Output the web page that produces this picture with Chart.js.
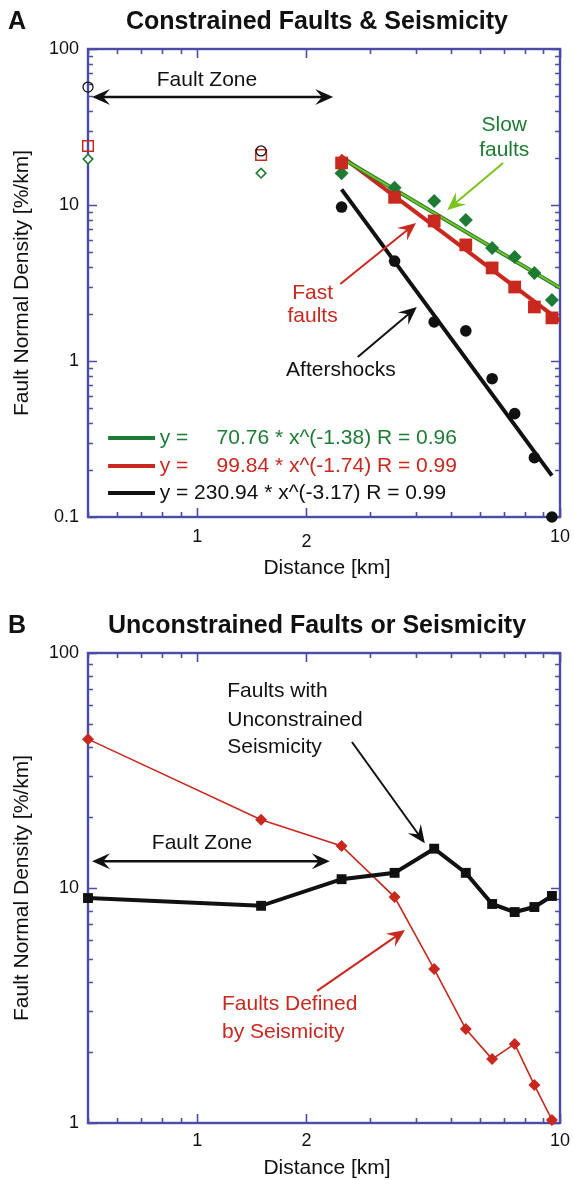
<!DOCTYPE html>
<html><head><meta charset="utf-8">
<script src="https://cdn.jsdelivr.net/npm/chart.js@4.4.1/dist/chart.umd.min.js"></script>
<style>html,body{margin:0;padding:0;background:#fff}canvas{display:block}</style>
</head><body>
<canvas id="chartA" width="574" height="590"></canvas>
<canvas id="chartB" width="574" height="590"></canvas>
<script>
// ---------- DATA ----------
const openDistance = [0.5, 1.5];
const fitDistance = [2.5, 3.5, 4.5, 5.5, 6.5, 7.5, 8.5, 9.5];
const binDistance = [0.5, 1.5, 2.5, 3.5, 4.5, 5.5, 6.5, 7.5, 8.5, 9.5];

// Panel A
const aftershocksOpen = [57, 22.2];
const aftershocks = [9.7, 4.37, 1.78, 1.56, 0.77, 0.46, 0.24, 0.10];
const fastOpen = [23.9, 20.9];
const fastFaults = [18.6, 11.2, 7.9, 5.55, 3.95, 2.98, 2.22, 1.89];
const slowOpen = [19.7, 16.0];
const slowFaults = [16.0, 12.9, 10.6, 8.0, 5.3, 4.64, 3.67, 2.46];

const slowFitX = [2.5, 10];
const slowFitY = [20.0, 2.95];
const fastFitX = [2.48, 10];
const fastFitY = [20.8, 1.81];
const aftershockFitX = [2.5, 9.5];
const aftershockFitY = [12.6, 0.184];

// Panel B
const unconstrainedSeismicity = [9.06, 8.4, 10.9, 11.6, 14.7, 11.6, 8.55, 7.9, 8.3, 9.25];
const definedBySeismicity = [43, 19.5, 15.1, 9.15, 4.52, 2.51, 1.87, 2.17, 1.45, 1.03];

// Ticks
const xTickValues = [0.5, 0.6, 0.7, 0.8, 0.9, 1, 2, 3, 4, 5, 6, 7, 8, 9, 10];
const xTickLabels = [1, 2, 10];
const yTickLabelsA = [0.1, 1, 10, 100];
const yTickLabelsB = [1, 10, 100];
const legendLines = [
  'y =', '70.76 * x^(-1.38) R = 0.96',
  'y =', '99.84 * x^(-1.74) R = 0.99',
  'y = 230.94 * x^(-3.17) R = 0.99'
];

// ---------- STYLE ----------
const AXIS = '#4b4ba8', RED = '#c9281f', GREEN = '#1e7b34', LGREEN = '#7ac21f', BLACK = '#111111';
const FONT = '"Liberation Sans", Arial, Helvetica, sans-serif';

const pts = (xs, ys) => xs.map((x, i) => ({x: x, y: ys[i]}));

function yTickValues(lo, hi) {
  const out = [];
  for (let d = lo; d < hi; d *= 10) for (let k = 1; k < 10; k++) out.push({v: d * k, major: k === 1});
  out.push({v: hi, major: true});
  return out;
}

function drawFrame(chart, yLo, yHi) {
  const {ctx, chartArea: ca, scales: {x, y}} = chart;
  ctx.save();
  ctx.strokeStyle = AXIS;
  ctx.lineWidth = 1.6;
  ctx.beginPath();
  xTickValues.forEach(v => {
    const px = Math.round(x.getPixelForValue(v)) + 0.5;
    const L = xTickLabels.includes(v) ? 9 : 5;
    ctx.moveTo(px, ca.bottom); ctx.lineTo(px, ca.bottom - L);
    ctx.moveTo(px, ca.top); ctx.lineTo(px, ca.top + L);
  });
  yTickValues(yLo, yHi).forEach(t => {
    const py = Math.round(y.getPixelForValue(t.v)) + 0.5;
    const L = t.major ? 9 : 5;
    ctx.moveTo(ca.left, py); ctx.lineTo(ca.left + L, py);
    ctx.moveTo(ca.right, py); ctx.lineTo(ca.right - L, py);
  });
  ctx.stroke();
  ctx.lineWidth = 2.4;
  ctx.strokeRect(ca.left, ca.top, ca.right - ca.left, ca.bottom - ca.top);
  ctx.restore();
}

function drawAxisText(chart, yLabels, xLabelDy, twoDy, letter, title, yTitleCy, xTitleY) {
  const {ctx, chartArea: ca, scales: {x, y}} = chart;
  ctx.save();
  ctx.fillStyle = BLACK;
  ctx.font = '18px ' + FONT;
  ctx.textAlign = 'right'; ctx.textBaseline = 'middle';
  yLabels.forEach(v => ctx.fillText(String(v), ca.left - 9, y.getPixelForValue(v)));
  ctx.textAlign = 'center';
  xTickLabels.forEach(v => ctx.fillText(String(v), x.getPixelForValue(v), ca.bottom + xLabelDy + (v === 2 ? twoDy : 0)));
  ctx.font = '21px ' + FONT;
  ctx.fillText('Distance [km]', 327, xTitleY);
  ctx.save();
  ctx.translate(22, yTitleCy); ctx.rotate(-Math.PI / 2);
  ctx.fillText('Fault Normal Density [%/km]', 0, 0);
  ctx.restore();
  ctx.font = 'bold 25px ' + FONT;
  ctx.textAlign = 'left';
  ctx.fillText(letter, 8, ca.top - 27);
  ctx.textAlign = 'center';
  ctx.fillText(title, 317, ca.top - 27);
  ctx.restore();
}

function P(chart, xv, yv) {
  return [chart.scales.x.getPixelForValue(xv), chart.scales.y.getPixelForValue(yv)];
}

function arrowHead(ctx, x1, y1, x2, y2, len, half, color) {
  const a = Math.atan2(y2 - y1, x2 - x1);
  ctx.save();
  ctx.translate(x2, y2); ctx.rotate(a);
  ctx.fillStyle = color;
  ctx.beginPath();
  ctx.moveTo(0, 0); ctx.lineTo(-len, -half); ctx.lineTo(-len * 0.62, 0); ctx.lineTo(-len, half);
  ctx.closePath(); ctx.fill();
  ctx.restore();
}

function arrow(chart, from, to, color, width, both) {
  const {ctx} = chart;
  const [x1, y1] = P(chart, from[0], from[1]);
  const [x2, y2] = P(chart, to[0], to[1]);
  ctx.save();
  ctx.strokeStyle = color; ctx.lineWidth = width; ctx.lineCap = 'butt';
  const a = Math.atan2(y2 - y1, x2 - x1);
  const back = 8;
  ctx.beginPath();
  ctx.moveTo(both ? x1 + Math.cos(a) * back : x1, both ? y1 + Math.sin(a) * back : y1);
  ctx.lineTo(x2 - Math.cos(a) * back, y2 - Math.sin(a) * back);
  ctx.stroke();
  ctx.restore();
  arrowHead(ctx, x1, y1, x2, y2, 18, 8, color);
  if (both) arrowHead(ctx, x2, y2, x1, y1, 18, 8, color);
}

function label(chart, text, xv, yv, color, align) {
  const {ctx} = chart;
  const [px, py] = P(chart, xv, yv);
  ctx.save();
  ctx.fillStyle = color; ctx.font = '21px ' + FONT;
  ctx.textAlign = align || 'center'; ctx.textBaseline = 'middle';
  ctx.fillText(text, px, py);
  ctx.restore();
}

function legendLine(chart, yv, color) {
  const {ctx} = chart;
  const [x1, py] = P(chart, 0.568, yv);
  const [x2] = P(chart, 0.765, yv);
  ctx.save();
  ctx.strokeStyle = color; ctx.lineWidth = 4;
  ctx.beginPath(); ctx.moveTo(x1, py); ctx.lineTo(x2, py); ctx.stroke();
  ctx.restore();
}

const noInteract = {
  responsive: false, animation: false, events: [],
  plugins: {legend: {display: false}, tooltip: {enabled: false}, title: {display: false}}
};

// ---------- CHART A ----------
new Chart(document.getElementById('chartA'), {
  type: 'scatter',
  data: {
    datasets: [
      {data: pts(fitDistance, aftershocks), pointStyle: 'circle', pointRadius: 5.8, backgroundColor: BLACK, borderColor: BLACK, borderWidth: 0, order: 1, clip: false},
      {data: pts(fitDistance, fastFaults), pointStyle: 'rect', pointRadius: 9, backgroundColor: RED, borderColor: RED, borderWidth: 0, order: 2, clip: false},
      {data: pts(fitDistance, slowFaults), pointStyle: 'rectRot', pointRadius: 7, backgroundColor: GREEN, borderColor: GREEN, borderWidth: 0, order: 3, clip: false},
      {data: pts(openDistance, aftershocksOpen), pointStyle: 'circle', pointRadius: 5, backgroundColor: 'rgba(255,255,255,0)', borderColor: BLACK, borderWidth: 1.3, order: 4, clip: false},
      {data: pts(openDistance, fastOpen), pointStyle: 'rect', pointRadius: 7.5, backgroundColor: 'rgba(255,255,255,0)', borderColor: RED, borderWidth: 1.5, order: 5, clip: false},
      {data: pts(openDistance, slowOpen), pointStyle: 'rectRot', pointRadius: 4.8, backgroundColor: '#ffffff', borderColor: GREEN, borderWidth: 1.6, order: 6, clip: false},
      {data: pts(slowFitX, slowFitY), showLine: true, pointRadius: 0, borderColor: LGREEN, borderWidth: 2, order: 7},
      {data: pts(slowFitX, slowFitY), showLine: true, pointRadius: 0, borderColor: GREEN, borderWidth: 4, order: 8},
      {data: pts(fastFitX, fastFitY), showLine: true, pointRadius: 0, borderColor: RED, borderWidth: 4, order: 9},
      {data: pts(aftershockFitX, aftershockFitY), showLine: true, pointRadius: 0, borderColor: BLACK, borderWidth: 4, order: 10}
    ]
  },
  options: Object.assign({}, noInteract, {
    layout: {padding: {left: 88, right: 14, top: 49, bottom: 73}},
    scales: {
      x: {type: 'logarithmic', min: 0.5, max: 10, display: false},
      y: {type: 'logarithmic', min: 0.1, max: 100, display: false}
    }
  }),
  plugins: [{
    id: 'decorA',
    beforeDatasetsDraw(chart) { drawFrame(chart, 0.1, 100); },
    afterDraw(chart) {
      drawAxisText(chart, yTickLabelsA, 20, 5, 'A', 'Constrained Faults & Seismicity', 283, 568);
      label(chart, 'Fault Zone', 1.064, 63.2, BLACK);
      arrow(chart, [0.513, 49.2], [2.37, 49.2], BLACK, 2.6, true);
      label(chart, 'Slow', 7.02, 32.6, GREEN);
      label(chart, 'faults', 7.02, 22.5, GREEN);
      arrow(chart, [6.97, 18.6], [4.89, 9.29], LGREEN, 2, false);
      label(chart, 'Fast', 2.08, 2.73, RED);
      label(chart, 'faults', 2.08, 1.94, RED);
      arrow(chart, [2.48, 3.12], [4.01, 7.67], RED, 2, false);
      label(chart, 'Aftershocks', 2.49, 0.875, BLACK);
      arrow(chart, [2.77, 1.06], [4.03, 2.22], BLACK, 2, false);
      // legend
      legendLine(chart, 0.321, GREEN);
      legendLine(chart, 0.212, RED);
      legendLine(chart, 0.1426, BLACK);
      label(chart, legendLines[0], 0.788, 0.321, GREEN, 'left');
      label(chart, legendLines[1], 5.20, 0.321, GREEN, 'right');
      label(chart, legendLines[2], 0.788, 0.212, RED, 'left');
      label(chart, legendLines[3], 5.20, 0.212, RED, 'right');
      label(chart, legendLines[4], 0.788, 0.1426, BLACK, 'left');
    }
  }]
});

// ---------- CHART B ----------
new Chart(document.getElementById('chartB'), {
  type: 'scatter',
  data: {
    datasets: [
      {data: pts(binDistance, unconstrainedSeismicity), showLine: true, borderColor: BLACK, borderWidth: 4, pointStyle: 'rect', pointRadius: 7, backgroundColor: BLACK, pointBorderWidth: 0, order: 1, clip: false},
      {data: pts(binDistance, definedBySeismicity), showLine: true, borderColor: RED, borderWidth: 1.6, pointStyle: 'rectRot', pointRadius: 6, backgroundColor: RED, pointBorderWidth: 0, order: 2, clip: false}
    ]
  },
  options: Object.assign({}, noInteract, {
    layout: {padding: {left: 88, right: 14, top: 63, bottom: 57}},
    scales: {
      x: {type: 'logarithmic', min: 0.5, max: 10, display: false},
      y: {type: 'logarithmic', min: 1, max: 100, display: false}
    }
  }),
  plugins: [{
    id: 'decorB',
    beforeDatasetsDraw(chart) { drawFrame(chart, 1, 100); },
    afterDraw(chart) {
      drawAxisText(chart, yTickLabelsB, 18, 0, 'B', 'Unconstrained Faults or Seismicity', 298, 578);
      label(chart, 'Fault Zone', 1.031, 15.5, BLACK);
      arrow(chart, [0.513, 13.0], [2.32, 13.0], BLACK, 2.6, true);
      label(chart, 'Faults with', 1.21, 68.9, BLACK, 'left');
      label(chart, 'Unconstrained', 1.21, 51.9, BLACK, 'left');
      label(chart, 'Seismicity', 1.21, 39.8, BLACK, 'left');
      arrow(chart, [2.67, 41.8], [4.24, 15.5], BLACK, 2, false);
      label(chart, 'Faults Defined', 1.17, 3.21, RED, 'left');
      label(chart, 'by Seismicity', 1.17, 2.44, RED, 'left');
      arrow(chart, [2.14, 3.65], [3.74, 6.62], RED, 2, false);
    }
  }]
});
</script>
</body></html>
